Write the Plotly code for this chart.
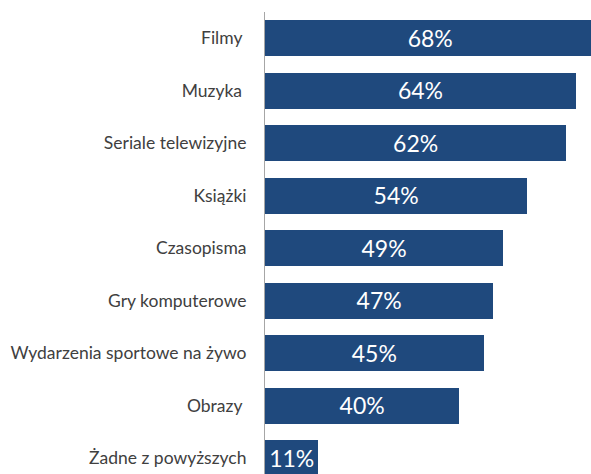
import plotly.graph_objects as go

categories = ["Filmy\u00a0", "Muzyka\u00a0", "Seriale telewizyjne", "Książki", "Czasopisma",
              "Gry komputerowe", "Wydarzenia sportowe na żywo", "Obrazy\u00a0", "Żadne z powyższych"]
values = [68, 64, 62, 54, 49, 47, 45, 40, 11]
value_labels = [f"{v}%" for v in values]

idx = list(range(len(categories)))

fig = go.Figure()
fig.add_trace(go.Bar(
    x=values, y=idx, orientation="h",
    marker=dict(color="#1F497D", line=dict(width=0)),
    width=0.686, hoverinfo="skip",
))
fig.add_trace(go.Scatter(
    x=[v / 2 for v in values], y=[i + 0.05 for i in idx], mode="text",
    text=value_labels, textposition="middle center",
    textfont=dict(family="Lato", size=23, color="white"),
    cliponaxis=False, hoverinfo="skip",
))

fig.update_layout(
    width=591, height=474,
    margin=dict(l=265, r=0, t=12, b=0),
    paper_bgcolor="white", plot_bgcolor="white",
    showlegend=False, bargap=0,
    xaxis=dict(range=[0, 67.1], visible=False, fixedrange=True),
    yaxis=dict(range=[8.3, -0.5], tickmode="array", tickvals=idx, ticktext=categories,
               showline=True, linecolor="#A6A6A6", linewidth=1, showgrid=False,
               zeroline=False, ticks="", ticklabelstandoff=14,
               tickfont=dict(family="Lato", size=17.5, color="#404040")),
)

fig.write_html("out.html")
